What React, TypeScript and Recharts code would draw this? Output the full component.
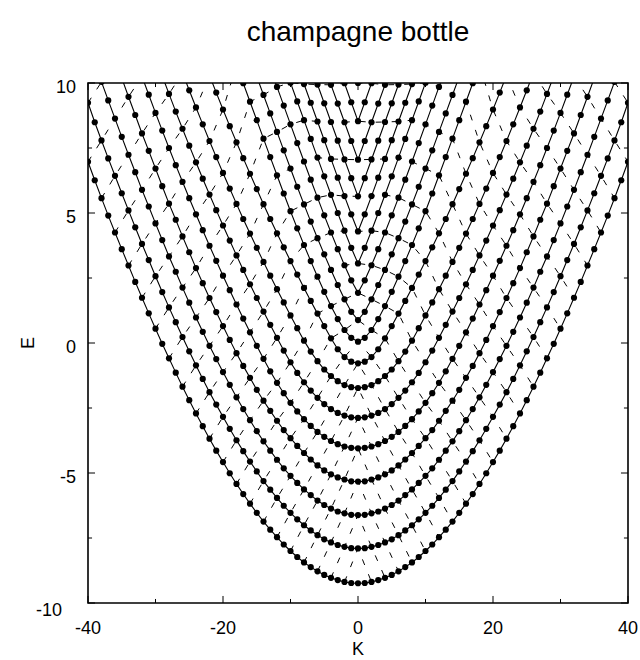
import React from "react";
import { ScatterChart, Scatter, XAxis, YAxis, ReferenceArea, ReferenceLine } from "recharts";

// E(v, K) for K = 0, 1, 2, ... on each curve of constant v (the plot is symmetric in K)
const E_V0 = [-9.24, -9.23, -9.19, -9.12, -9.03, -8.92, -8.78, -8.62, -8.44, -8.23, -8.0, -7.75, -7.47, -7.18, -6.87, -6.53, -6.18, -5.81, -5.42, -5.01, -4.58, -4.14, -3.68, -3.2, -2.71, -2.2, -1.68, -1.14, -0.59, -0.03, 0.55, 1.14, 1.74, 2.35, 2.98, 3.61, 4.25, 4.9, 5.57, 6.26, 6.97];
const E_V1 = [-7.9, -7.89, -7.84, -7.77, -7.67, -7.55, -7.39, -7.21, -7.01, -6.78, -6.53, -6.26, -5.96, -5.64, -5.31, -4.94, -4.56, -4.16, -3.74, -3.3, -2.84, -2.37, -1.89, -1.38, -0.86, -0.32, 0.23, 0.8, 1.37, 1.96, 2.57, 3.19, 3.81, 4.45, 5.1, 5.76, 6.43, 7.1, 7.79, 8.49, 9.24];
const E_V2 = [-6.62, -6.61, -6.55, -6.48, -6.37, -6.23, -6.06, -5.85, -5.63, -5.38, -5.11, -4.82, -4.49, -4.14, -3.78, -3.39, -2.97, -2.54, -2.09, -1.61, -1.12, -0.62, -0.11, 0.43, 0.98, 1.55, 2.13, 2.74, 3.33, 3.96, 4.6, 5.25, 5.89, 6.57, 7.24, 7.93, 8.63, 9.33, 10.04];
const E_V3 = [-5.33, -5.32, -5.25, -5.17, -5.05, -4.9, -4.71, -4.48, -4.23, -3.96, -3.66, -3.35, -2.99, -2.61, -2.22, -1.8, -1.34, -0.88, -0.39, 0.12, 0.65, 1.19, 1.73, 2.3, 2.88, 3.49, 4.1, 4.74, 5.36, 6.03, 6.71, 7.39, 8.06, 8.77, 9.47, 10.19];
const E_V4 = [-4.05, -4.03, -3.98, -3.89, -3.77, -3.61, -3.42, -3.19, -2.93, -2.63, -2.3, -1.93, -1.53, -1.09, -0.61, -0.11, 0.41, 0.94, 1.48, 2.03, 2.59, 3.16, 3.74, 4.34, 4.95, 5.57, 6.2, 6.84, 7.5, 8.17, 8.85, 9.55, 10.25];
const E_V5 = [-2.88, -2.86, -2.79, -2.69, -2.54, -2.35, -2.11, -1.83, -1.51, -1.15, -0.74, -0.29, 0.2, 0.7, 1.21, 1.73, 2.26, 2.81, 3.37, 3.94, 4.52, 5.11, 5.71, 6.32, 6.95, 7.59, 8.24, 8.9, 9.58, 10.27];
const E_V6 = [-1.73, -1.7, -1.62, -1.47, -1.27, -1.02, -0.7, -0.33, 0.09, 0.57, 1.06, 1.56, 2.07, 2.59, 3.12, 3.66, 4.21, 4.77, 5.35, 5.94, 6.54, 7.15, 7.77, 8.41, 9.06, 9.72, 10.39];
const E_V7 = [-0.78, -0.72, -0.54, -0.24, 0.18, 0.65, 1.13, 1.62, 2.12, 2.63, 3.15, 3.68, 4.22, 4.77, 5.34, 5.92, 6.51, 7.11, 7.72, 8.34, 8.98, 9.63, 10.29];
const E_V8 = [0.05, 0.2, 0.5, 0.92, 1.42, 1.97, 2.55, 3.15, 3.77, 4.41, 5.07, 5.75, 6.45, 7.15, 7.86, 8.57, 9.28, 9.99, 10.7];
const E_V9 = [0.88, 1.2, 1.68, 2.23, 2.81, 3.41, 4.03, 4.67, 5.33, 6.01, 6.71, 7.41, 8.12, 8.83, 9.54, 10.25];
const E_V10 = [1.93, 2.41, 2.99, 3.61, 4.25, 4.91, 5.59, 6.28, 6.98, 7.69, 8.41, 9.13, 9.85, 10.57];
const E_V11 = [3.06, 3.66, 4.32, 5.0, 5.7, 6.41, 7.13, 7.85, 8.57, 9.29, 10.01, 10.73];
const E_V12 = [4.29, 4.95, 5.65, 6.36, 7.08, 7.8, 8.52, 9.24, 9.96, 10.68];
const E_V13 = [5.64, 6.34, 7.06, 7.78, 8.5, 9.22, 9.94, 10.66];
const E_V14 = [7.05, 7.77, 8.49, 9.21, 9.93, 10.65];
const E_V15 = [8.53, 9.26, 9.99, 10.72];
const E_V16 = [10.0, 10.73];

const LEVELS = [E_V0, E_V1, E_V2, E_V3, E_V4, E_V5, E_V6, E_V7, E_V8, E_V9, E_V10, E_V11, E_V12, E_V13, E_V14, E_V15, E_V16];

const K_TICKS = [-40, -20, 0, 20, 40];
const K_MINOR = [-30, -10, 10, 30];
const E_TICKS = [-10, -5, 0, 5, 10];
const E_MINOR = [-7.5, -2.5, 2.5, 7.5];

const FONT = "'Liberation Sans', Arial, Helvetica, sans-serif";

type Pt = { k: number; e: number };

function solidCurve(row: number[]): Pt[] {
  const pts: Pt[] = [];
  for (let k = -(row.length - 1); k < row.length; k++) {
    pts.push({ k, e: row[Math.abs(k)] });
  }
  return pts;
}

// dashed lines join the points that share 2v + |K|
function dashedPaths(): Pt[][] {
  const paths: Pt[][] = [];
  for (let n = 2; n <= 44; n += 2) {
    let cur: Pt[] = [];
    for (let k = -n; k <= n; k += 2) {
      const v = (n - Math.abs(k)) / 2;
      const row = LEVELS[v];
      if (row && Math.abs(k) < row.length) {
        cur.push({ k, e: row[Math.abs(k)] });
      } else {
        if (cur.length > 1) paths.push(cur);
        cur = [];
      }
    }
    if (cur.length > 1) paths.push(cur);
  }
  return paths;
}

const dot = (p: any) => <circle cx={p.cx} cy={p.cy} r={3.1} fill="#000" />;
const noDot = () => <g />;

const XTick = (p: any) => (
  <text x={p.x} y={634} textAnchor="middle" fontSize={18} fontFamily={FONT} fill="#000">
    {p.payload.value}
  </text>
);

const YTick = (p: any) => {
  const v = p.payload.value;
  const low = v === -10;
  return (
    <text x={low ? 62 : 76} y={low ? 616 : p.y + 10} textAnchor="end" fontSize={18} fontFamily={FONT} fill="#000">
      {v}
    </text>
  );
};

export default function App() {
  const dashed = dashedPaths();
  const kTick = 1.04;
  const kMinor = 0.6;
  const eTick = 0.27;
  const eMinor = 0.155;

  return (
    <div style={{ position: "relative", width: 640, height: 660, fontFamily: FONT, color: "#000" }}>
      <style>{"body{margin:0}"}</style>
      <div style={{ position: "absolute", left: 158, top: 16, width: 400, textAlign: "center", fontSize: 28, lineHeight: "32px" }}>
        champagne bottle
      </div>
      <div style={{ position: "absolute", left: 338, top: 639, width: 40, textAlign: "center", fontSize: 18, lineHeight: "20px" }}>
        K
      </div>
      <div style={{ position: "absolute", left: 8, top: 333, width: 40, textAlign: "center", fontSize: 18, lineHeight: "20px", transform: "rotate(-90deg)" }}>
        E
      </div>
      <ScatterChart width={640} height={660} margin={{ top: 83, right: 12, bottom: 0, left: 0 }}>
        <XAxis
          type="number"
          dataKey="k"
          domain={[-40, 40]}
          ticks={K_TICKS}
          allowDataOverflow
          height={57}
          tickLine={false}
          axisLine={false}
          tick={XTick}
        />
        <YAxis
          type="number"
          dataKey="e"
          domain={[-10, 10]}
          ticks={E_TICKS}
          allowDataOverflow
          width={88}
          tickLine={false}
          axisLine={false}
          tick={YTick}
        />
        {dashed.map((pts, i) => (
          <Scatter
            key={"d" + i}
            data={pts}
            line={{ stroke: "#000", strokeWidth: 1, strokeDasharray: "6 10" }}
            lineType="joint"
            shape={noDot}
            isAnimationActive={false}
          />
        ))}
        {LEVELS.map((row, v) => (
          <Scatter
            key={"v" + v}
            data={solidCurve(row)}
            line={{ stroke: "#000", strokeWidth: 1.1 }}
            lineType="joint"
            shape={dot}
            isAnimationActive={false}
          />
        ))}
        {K_TICKS.concat(K_MINOR).map((k) => {
          const len = K_TICKS.includes(k) ? eTick : eMinor;
          return [
            <ReferenceLine key={"kb" + k} segment={[{ x: k, y: -10 }, { x: k, y: -10 + len }]} stroke="#000" strokeWidth={1} />,
            <ReferenceLine key={"kt" + k} segment={[{ x: k, y: 10 }, { x: k, y: 10 - len }]} stroke="#000" strokeWidth={1} />,
          ];
        })}
        {E_TICKS.concat(E_MINOR).map((e) => {
          const len = E_TICKS.includes(e) ? kTick : kMinor;
          return [
            <ReferenceLine key={"el" + e} segment={[{ x: -40, y: e }, { x: -40 + len, y: e }]} stroke="#000" strokeWidth={1} />,
            <ReferenceLine key={"er" + e} segment={[{ x: 40, y: e }, { x: 40 - len, y: e }]} stroke="#000" strokeWidth={1} />,
          ];
        })}
        <ReferenceArea x1={-40} x2={40} y1={-10} y2={10} fill="none" stroke="#000" strokeWidth={1.6} />
      </ScatterChart>
    </div>
  );
}
